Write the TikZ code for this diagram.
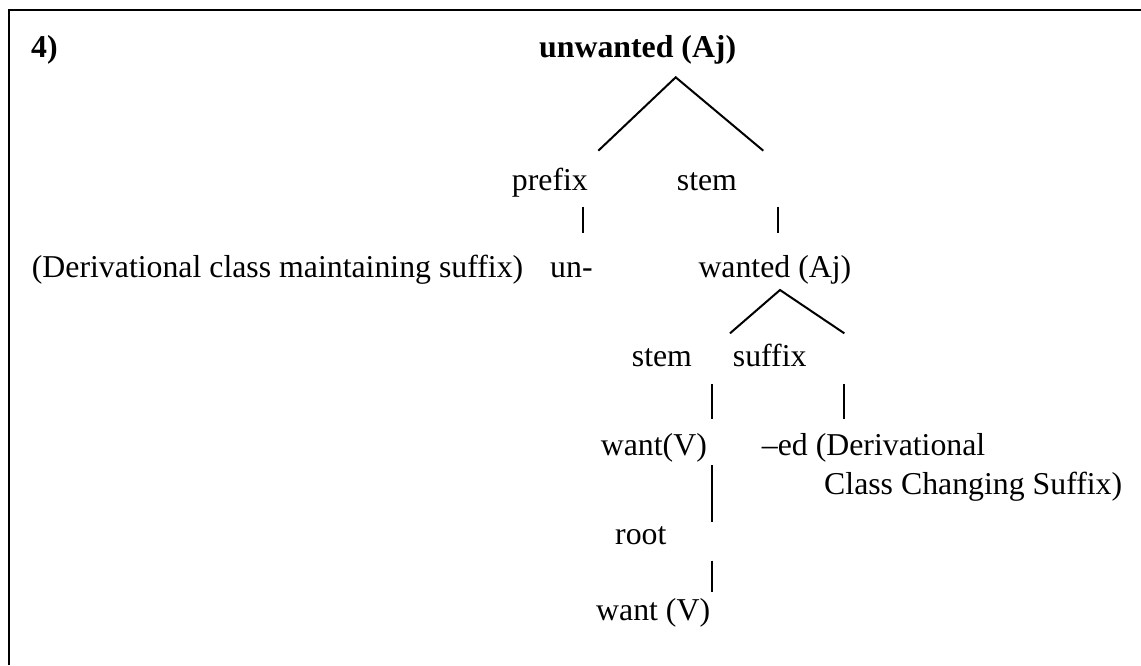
\documentclass[tikz,border=0pt]{standalone}
\usepackage{fontspec}
\setmainfont{Liberation Serif}
\begin{document}
\begin{tikzpicture}[x=1pt,y=-1pt,
  every node/.style={inner sep=0pt, anchor=base west, font=\fontsize{31.8}{38}\selectfont},
  branch/.style={line width=2pt},
  frame/.style={line width=2.6pt, line join=miter}]
\useasboundingbox (0,0) rectangle (1141,665);
% open frame: left and top rules
\draw[frame] (9,665) -- (9,10) -- (1141,10);

% labels
\node (num)    at (31,57)      {\bfseries 4)};
\node (top)    at (539,57)     {\bfseries unwanted (Aj)};
\node (pre)    at (511.7,190)  {prefix};
\node (stemA)  at (676.7,190)  {stem};
\node (desc)   at (31.7,277)   {(Derivational class maintaining suffix)};
\node (un)     at (550,277)    {un-};
\node (wanted) at (698.3,277)  {wanted (Aj)};
\node (stemB)  at (631.7,366.7){stem};
\node (suf)    at (732.7,366.7){suffix};
\node (wantV)  at (600.7,455)  {want(V)};
\node (ed)     at (761.7,455)  {\textendash ed (Derivational};
\node (cls)    at (824,494)    {Class Changing Suffix)};
\node (root)   at (615,544)    {root};
\node (want)   at (596,620)    {want (V)};

% branch end points
\coordinate (topApex) at (675.7,77.3);
\coordinate (topL)    at (598.3,150.7);
\coordinate (topR)    at (763.3,150.7);
\coordinate (preT)    at (582.7,206.7);
\coordinate (preB)    at (582.7,233.3);
\coordinate (stemAT)  at (778.3,206.7);
\coordinate (stemAB)  at (778.3,233.3);
\coordinate (wApex)   at (780,290);
\coordinate (wL)      at (730,333.3);
\coordinate (wR)      at (844.3,333.3);
\coordinate (stemBT)  at (712.3,384);
\coordinate (stemBB)  at (712.3,419);
\coordinate (sufT)    at (844.3,384);
\coordinate (sufB)    at (844.3,419);
\coordinate (wantVT)  at (712.3,465);
\coordinate (wantVB)  at (712.3,522.3);
\coordinate (rootT)   at (712.3,560.7);
\coordinate (rootB)   at (712.3,592.3);

% branches
\draw[branch] (topL) -- (topApex) -- (topR);
\draw[branch] (preT) -- (preB);
\draw[branch] (stemAT) -- (stemAB);
\draw[branch] (wL) -- (wApex) -- (wR);
\draw[branch] (stemBT) -- (stemBB);
\draw[branch] (sufT) -- (sufB);
\draw[branch] (wantVT) -- (wantVB);
\draw[branch] (rootT) -- (rootB);
\end{tikzpicture}
\end{document}
